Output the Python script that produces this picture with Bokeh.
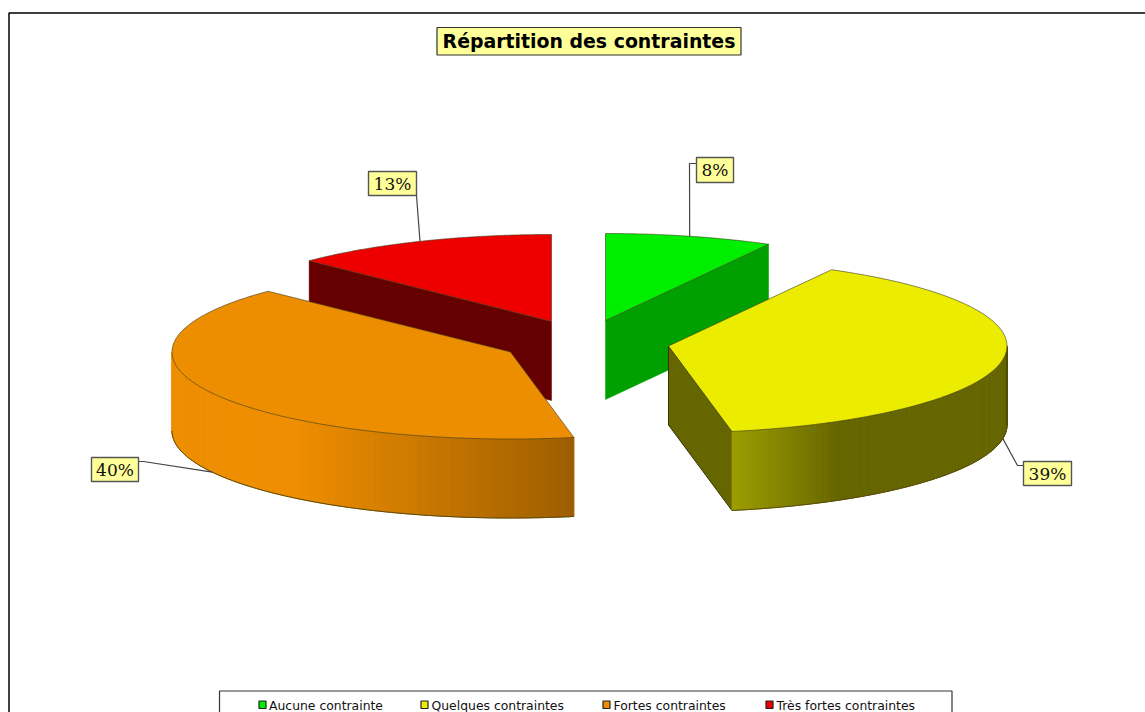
import numpy as np
from bokeh.plotting import figure
from bokeh.models import Range1d
from bokeh.core.properties import value
from bokeh.embed import file_html
from bokeh.resources import INLINE

categories = ["Aucune contrainte", "Quelques contraintes", "Fortes contraintes", "Très fortes contraintes"]
percents = [8.0, 39.0, 40.3, 12.7]
labels = ["8%", "39%", "40%", "13%"]
title_text = "Répartition des contraintes"

top_colors = ["#00EE00", "#ECEC00", "#EC8E00", "#EE0000"]
side_rgb = [(0, 160, 0), (102, 102, 0), (165, 98, 0), (102, 0, 0)]
top_rgb = [(0, 238, 0), (238, 238, 0), (238, 142, 0), (238, 0, 0)]
hexcol = lambda c: "#%02X%02X%02X" % tuple(int(round(v)) for v in c)

# Layout of the pie in page pixels
A, B, DEPTH = 338.5, 87.0, 79.0
centers = [(605, 320), (668, 345.5), (510, 351.5), (551, 321)]
label_boxes = [(696, 157, 733, 182), (1023, 461, 1071, 485), (91, 457, 138, 481), (368, 171, 416, 195)]
elbows = [[(696, 163), (689, 163)], [(1023, 465), (1017, 465)], [(138, 461), (143, 461)], [(416, 195)]]
anchor_drop = [False, True, True, False]
legend_marker_x = [262, 424, 606, 769]
legend_text_x = [268.5, 431, 613, 776]

W, H = 1145, 712
p = figure(width=W, height=H, x_range=Range1d(0, W), y_range=Range1d(H, 0),
           output_backend="svg", toolbar_location=None, min_border=0,
           background_fill_color="white", border_fill_color="white", outline_line_color=None)
p.axis.visible = False
p.grid.visible = False

# frame
p.line([8.5, 8.5, 1145], [712, 12.5, 12.5], line_color="#000000", line_width=1.5)

def pt(c, t, drop=0.0):
    return c[0] + A * np.sin(t), c[1] - B * np.cos(t) + drop

def shade(t):
    s = np.sin(t)
    return np.interp(s, [-0.63, 0.186, 0.5, 1.0], [1.0, 0.66, 0.43, 0.43])

cum = np.concatenate([[0], np.cumsum(percents)]) / sum(percents) * 2 * np.pi
order = [3, 0, 1, 2]
EDGE = "#3A3A1A"

for i in order:
    c = centers[i]
    t0, t1 = cum[i], cum[i + 1]
    ts = np.linspace(t0, t1, 161)
    if i == 0:
        x1, y1 = pt(c, t1)
        p.patch([c[0], x1, x1, c[0]], [c[1], y1, y1 + DEPTH, c[1] + DEPTH],
                fill_color=hexcol(side_rgb[i]), line_color=hexcol(side_rgb[i]), line_width=0.5)
    if i == 3:
        x0, y0 = pt(c, t0)
        p.patch([c[0], x0, x0, c[0]], [c[1], y0, y0 + DEPTH, c[1] + DEPTH],
                fill_color=hexcol(side_rgb[i]), line_color=hexcol(side_rgb[i]), line_width=0.5)
    if i == 1:
        x1, y1 = pt(c, t1)
        p.patch([c[0], x1, x1, c[0]], [c[1], y1, y1 + DEPTH, c[1] + DEPTH],
                fill_color="#666600", line_color="#333300", line_width=1)
    if i in (1, 2):
        base = np.array(top_rgb[i], dtype=float)
        lo = max(t0, np.pi / 2)
        hi = min(t1, 3 * np.pi / 2)
        tw = np.linspace(lo, hi, 91)
        xs, ys, cols = [], [], []
        for a, b in zip(tw[:-1], tw[1:]):
            xa, ya = pt(c, a)
            xb, yb = pt(c, b)
            xs.append([xa, xb, xb, xa])
            ys.append([ya, yb, yb + DEPTH, ya + DEPTH])
            cols.append(hexcol(base * shade((a + b) / 2)))
        p.patches(xs, ys, fill_color=cols, line_color=cols, line_width=1)
        xe, ye = pt(c, tw)
        p.line(xe, ye + DEPTH, line_color="#5A4A10", line_width=1)
        if i == 1:
            p.line([xe[0], xe[0]], [ye[0], ye[0] + DEPTH], line_color="#333300", line_width=1)
    xt, yt = pt(c, ts)
    p.patch(np.r_[c[0], xt], np.r_[c[1], yt], fill_color=top_colors[i], line_color=EDGE, line_width=0.6)

# leader lines and label boxes
for i in range(4):
    mid = (cum[i] + cum[i + 1]) / 2
    ax, ay = pt(centers[i], mid, DEPTH if anchor_drop[i] else 0.0)
    pts = elbows[i] + [(ax, ay)]
    p.line([q[0] for q in pts], [q[1] for q in pts], line_color="#444444", line_width=1.2)
    x0, y0, x1, y1 = label_boxes[i]
    p.quad(left=x0, right=x1, top=y0, bottom=y1, fill_color="#FFFF99", line_color="#555555", line_width=1.4)
    p.text([(x0 + x1) / 2], [(y0 + y1) / 2], text=[labels[i]], text_align="center", text_baseline="middle",
           text_font=value("DejaVu Serif"), text_font_size="17px", text_color="#111111")

# title
p.quad(left=436.5, right=740.5, top=27, bottom=54.5, fill_color="#FFFF99", line_color="#333333", line_width=1.2)
p.text([588.5], [40.5], text=[title_text], text_align="center", text_baseline="middle",
       text_font=value("DejaVu Sans"), text_font_style="bold", text_font_size="18.9px", text_color="#000000")

# legend
p.quad(left=219, right=951.5, top=690.5, bottom=730, fill_color="white", line_color="#333333", line_width=1.2)
for i in range(4):
    p.quad(left=legend_marker_x[i] - 3.5, right=legend_marker_x[i] + 3.5, top=700.5, bottom=708,
           fill_color=top_colors[i], line_color="#222222", line_width=1.2)
    p.text([legend_text_x[i]], [704.5], text=[categories[i]], text_align="left", text_baseline="middle",
           text_font=value("DejaVu Sans"), text_font_size="12.4px", text_color="#111111")

open("out.html", "w").write(file_html(p, INLINE))
